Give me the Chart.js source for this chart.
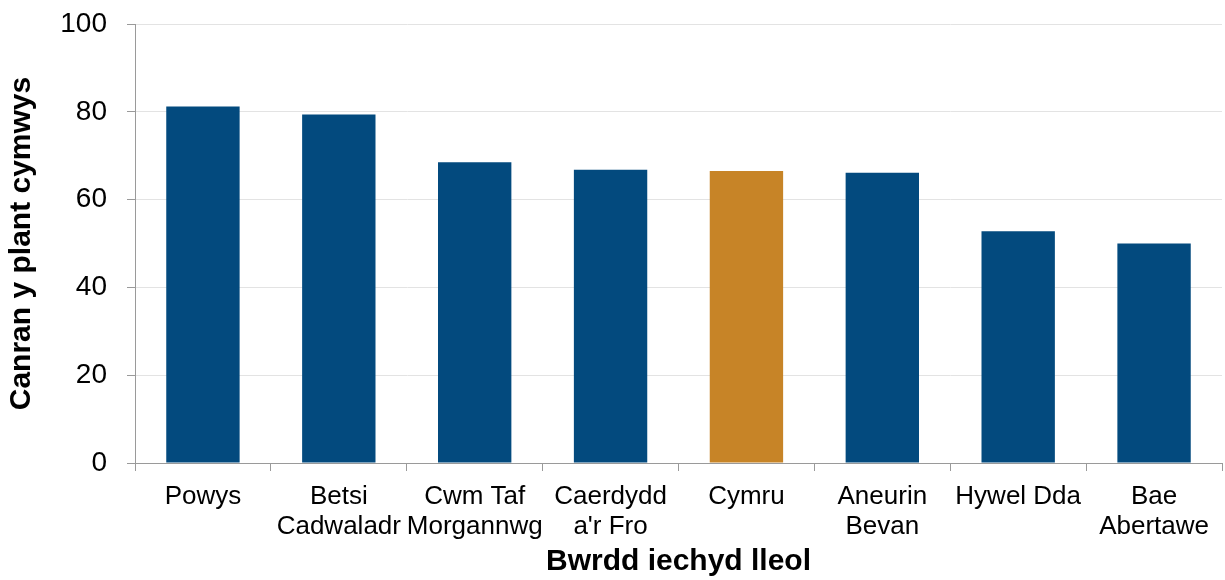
<!DOCTYPE html>
<html>
<head>
<meta charset="utf-8">
<script src="https://cdn.jsdelivr.net/npm/chart.js@4/dist/chart.umd.min.js"></script>
<style>
html,body{margin:0;padding:0;background:#fff;}
#wrap{width:1225px;height:580px;position:relative;}
</style>
</head>
<body>
<div id="wrap"><canvas id="c" width="1225" height="580"></canvas></div>
<script>
const categories = [["Powys"],["Betsi","Cadwaladr"],["Cwm Taf","Morgannwg"],["Caerdydd","a'r Fro"],["Cymru"],["Aneurin","Bevan"],["Hywel Dda"],["Bae","Abertawe"]];
const values = [81.2, 79.4, 68.5, 66.8, 66.5, 66.1, 52.8, 50.0];
const yTicks = [0, 20, 40, 60, 80, 100];
const highlight = "Cymru";
const xTitle = "Bwrdd iechyd lleol";
const yTitle = "Canran y plant cymwys";

const BLUE = "#034a7e", ORANGE = "#c78427";
const FONT = "'Liberation Sans', Arial, sans-serif";

new Chart(document.getElementById('c'), {
  type: 'bar',
  data: {
    labels: categories,
    datasets: [{
      data: values,
      backgroundColor: categories.map(c => c.join(' ') === highlight ? ORANGE : BLUE),
      borderWidth: 0,
      categoryPercentage: 1.0,
      barPercentage: 0.54
    }]
  },
  options: {
    responsive: false,
    animation: false,
    devicePixelRatio: 1,
    layout: { padding: { top: 24, right: 3, bottom: 0, left: 0 } },
    plugins: { legend: { display: false }, tooltip: { enabled: false } },
    scales: {
      x: {
        grid: { display: true, drawOnChartArea: false, drawTicks: true, tickLength: 8, tickColor: '#9a9a9a', offset: true },
        border: { display: true, color: '#9a9a9a', width: 1 },
        ticks: { color: '#000', font: { family: FONT, size: 26, lineHeight: 1.15 }, maxRotation: 0, autoSkip: false, padding: 11 },
        title: { display: true, text: xTitle, color: '#000', font: { family: FONT, size: 30, weight: 'bold' }, padding: { top: 0, bottom: 0 } },
        afterFit: s => { s.height = 117; s.paddingLeft = 0; s.paddingRight = 0; }
      },
      y: {
        min: 0, max: 100,
        afterBuildTicks: s => { s.ticks = yTicks.map(v => ({ value: v })); },
        grid: { color: '#e3e3e3', lineWidth: 1, drawTicks: true, tickLength: 8, tickColor: '#9a9a9a' },
        border: { display: true, color: '#9a9a9a', width: 1 },
        ticks: { color: '#000', font: { family: FONT, size: 28 }, padding: 20 },
        title: { display: true, text: yTitle, color: '#000', font: { family: FONT, size: 30, weight: 'bold' }, padding: { top: 4, bottom: 0 } },
        afterFit: s => { s.width = 135; s.paddingTop = 0; s.paddingBottom = 0; }
      }
    }
  }
});
</script>
</body>
</html>
